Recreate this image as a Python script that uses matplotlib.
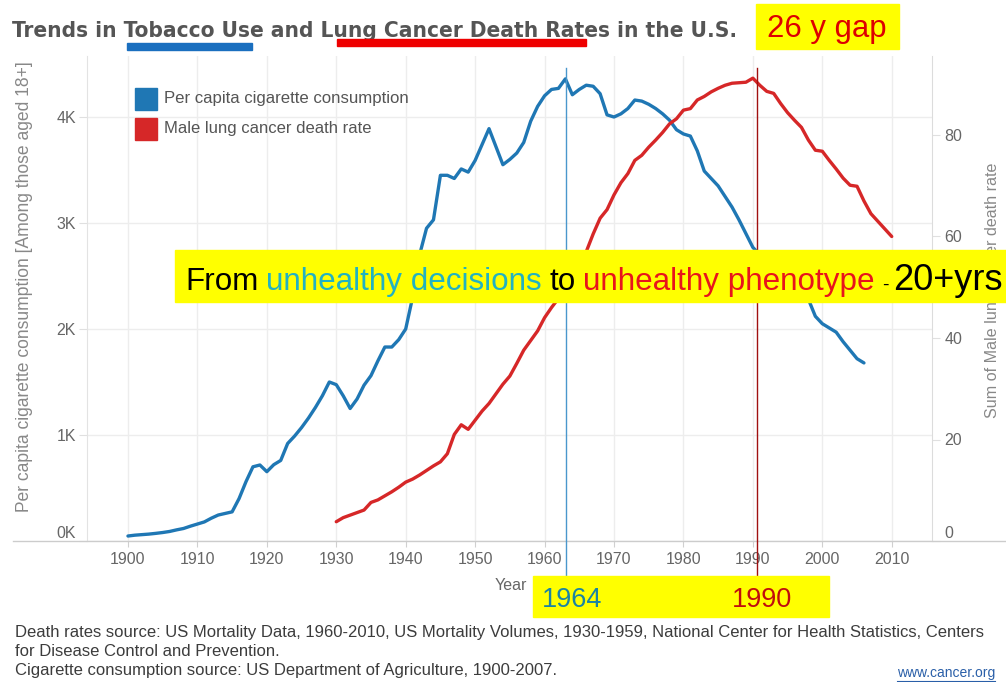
import matplotlib
matplotlib.use("Agg")
import matplotlib.pyplot as plt
from matplotlib import font_manager as fm
from matplotlib.patches import Rectangle
from matplotlib.lines import Line2D
from matplotlib.transforms import ScaledTranslation

# ---------------- data ----------------
years_cig = list(range(1900, 2007))
cigarettes = [47, 55, 60, 65, 72, 80, 90, 105, 118, 140,
              160, 180, 215, 245, 260, 275, 400, 560, 700, 717,
              654, 720, 760, 920, 990, 1070, 1160, 1260, 1370, 1500,
              1475, 1370, 1250, 1340, 1470, 1560, 1700, 1830, 1830, 1900,
              2000, 2300, 2700, 2950, 3030, 3450, 3450, 3420, 3510, 3480,
              3590, 3740, 3890, 3720, 3550, 3600, 3660, 3760, 3960, 4100,
              4200, 4260, 4270, 4360, 4210, 4260, 4300, 4290, 4220, 4020,
              4000, 4030, 4080, 4160, 4150, 4120, 4080, 4030, 3970, 3880,
              3840, 3820, 3680, 3490, 3420, 3350, 3250, 3150, 3030, 2900,
              2770, 2700, 2640, 2560, 2520, 2490, 2440, 2380, 2280, 2120,
              2050, 2010, 1970, 1880, 1800, 1720, 1680]

years_death = list(range(1930, 2011))
death_rate = [3.8, 4.6, 5.1, 5.6, 6.1, 7.6, 8.1, 8.9, 9.7, 10.6,
              11.6, 12.2, 13.0, 13.9, 14.8, 15.6, 17.2, 21.0, 22.9, 22.0,
              23.8, 25.6, 27.1, 29.0, 30.9, 32.5, 35.0, 37.6, 39.5, 41.4,
              44.0, 46.0, 47.8, 49.8, 52.0, 54.5, 57.0, 60.5, 63.6, 65.3,
              68.2, 70.6, 72.4, 75.0, 76.0, 77.6, 79.0, 80.5, 82.2, 83.2,
              84.9, 85.2, 86.9, 87.6, 88.5, 89.2, 89.8, 90.2, 90.3, 90.4,
              91.2, 89.8, 88.6, 88.2, 86.2, 84.4, 82.9, 81.5, 79.0, 77.0,
              76.8, 75.0, 73.3, 71.5, 70.1, 69.9, 67.0, 64.5, 63.0, 61.5,
              60.0]

series_names = ["Per capita cigarette consumption", "Male lung cancer death rate"]
x_ticks = list(range(1900, 2011, 10))
left_ticks = [0, 1000, 2000, 3000, 4000]
left_tick_labels = ["0K", "1K", "2K", "3K", "4K"]
right_ticks = [0, 20, 40, 60, 80]
marker_years = [1963.1, 1990.6]
marker_labels = ["1964", "1990"]

# ---------------- layout helpers ----------------
W, H = 1006, 682
BLUE = "#1f77b4"
RED = "#d62728"
SANS = "Liberation Sans"


def fx(x):
    return x / W


def fy(y):
    return 1 - y / H


fig = plt.figure(figsize=(W / 100, H / 100), dpi=100)
fig.patch.set_facecolor("white")
renderer = fig.canvas.get_renderer()


def put(x, y, s, size=12, width=None, height=None, **kw):
    t = fig.text(fx(x), fy(y), s, fontsize=size, **kw)
    if width is not None or height is not None:
        bb = t.get_window_extent(renderer)
        if width is not None:
            t.set_fontsize(size * width / bb.width)
        else:
            t.set_fontsize(size * height / bb.height)
    return t


def title_font():
    for f in fm.fontManager.ttflist:
        if f.name == "Liberation Sans Narrow" and f.weight in ("bold", 700):
            return fm.FontProperties(fname=f.fname)
    for f in fm.fontManager.ttflist:
        if "DejaVuSansCondensed-Bold.ttf" in f.fname:
            return fm.FontProperties(fname=f.fname)
    return fm.FontProperties(family="Roboto", weight="bold")


# ---------------- axes ----------------
ax_left, ax_right, ax_top, ax_bottom = 87, 932, 56, 541
ax = fig.add_axes([fx(ax_left), fy(ax_bottom), (ax_right - ax_left) / W,
                   (ax_bottom - ax_top) / H])
ax2 = ax.twinx()

ax.plot(years_cig, cigarettes, color=BLUE, lw=2.4, solid_capstyle="round",
        solid_joinstyle="round", zorder=3)
ax2.plot(years_death, death_rate, color=RED, lw=2.4, solid_capstyle="round",
         solid_joinstyle="round", zorder=3)

ax.set_xlim(1894.1, 2015.8)
ax.set_ylim(0, (ax_bottom - ax_top) / 106 * 1000)
ax2.set_ylim(0, (ax_bottom - ax_top) / 101.5 * 20)

ax.set_xticks(x_ticks)
ax.set_xticklabels([str(v) for v in x_ticks], fontfamily=SANS)
ax.set_yticks(left_ticks)
ax.set_yticklabels(left_tick_labels, fontfamily=SANS)
ax2.set_yticks(right_ticks)
ax2.set_yticklabels([str(v) for v in right_ticks], fontfamily=SANS)

ax.grid(True, color="#ededed", lw=1)
ax.set_axisbelow(True)
for a in (ax, ax2):
    for s in ("top", "bottom", "left", "right"):
        a.spines[s].set_visible(False)
ax.spines["left"].set_visible(True)
ax.spines["left"].set_color("#e3e3e3")
ax2.spines["right"].set_visible(True)
ax2.spines["right"].set_color("#dcdcdc")

ax.tick_params(axis="x", length=4, color="#d0d0d0", pad=4, labelsize=11.5,
               labelcolor="#666666")
ax.tick_params(axis="y", length=6, color="#e0e0e0", pad=2, labelsize=11.5,
               labelcolor="#666666")
ax2.tick_params(axis="y", length=6, color="#e0e0e0", pad=3, labelsize=11.5,
                labelcolor="#666666")

# zero labels sit just above the baseline, as in the reference
for lbl in (ax.get_yticklabels()[0], ax2.get_yticklabels()[0]):
    lbl.set_transform(lbl.get_transform() +
                      ScaledTranslation(0, 9 / 100, fig.dpi_scale_trans))

# long x axis baseline
fig.add_artist(Line2D([fx(13), fx(1006)], [fy(541), fy(541)], color="#cccccc",
                      lw=1, zorder=2))

# marker lines for 1964 / 1990
fig.canvas.draw()
mcolors = ["#4a97cc", "#a01010"]
for yr, c in zip(marker_years, mcolors):
    xp = ax.transData.transform((yr, 0))[0]
    fig.add_artist(Line2D([xp / W, xp / W], [fy(68), fy(578)], color=c, lw=1,
                          zorder=4))

# ---------------- legend ----------------
for i, (name, c) in enumerate(zip(series_names, [BLUE, RED])):
    yc = 99 + 30 * i
    fig.add_artist(Rectangle((fx(135), fy(yc + 11)), 22 / W, 22 / H,
                             color=c, zorder=5))
    put(164, yc, name, size=12, color="#555555", va="center",
        fontfamily=SANS, zorder=5, width=244 if i == 0 else None)

# ---------------- axis labels ----------------
put(25, 287, "Per capita cigarette consumption [Among those aged 18+]",
    size=11, height=450, rotation=90, ha="center", va="center",
    color="#888888", fontfamily=SANS)
put(993, 290, "Sum of Male lung cancer death rate", size=11, height=255,
    rotation=90, ha="center", va="center", color="#888888", fontfamily=SANS)
put(527, 586, "Year", size=11.5, ha="right", va="center", color="#666666",
    fontfamily=SANS)

# ---------------- title ----------------
put(12, 37, "Trends in Tobacco Use and Lung Cancer Death Rates in the U.S.",
    size=18, width=724, va="baseline", color="#555555",
    fontproperties=title_font())
fig.add_artist(Rectangle((fx(127), fy(50)), 125 / W, 7 / H, color="#1a6fbf",
                         zorder=5))
fig.add_artist(Rectangle((fx(337), fy(46)), 249 / W, 7 / H, color="#ee0000",
                         zorder=5))
fig.add_artist(Rectangle((fx(756), fy(49)), 143 / W, 45 / H, color="#ffff00",
                         zorder=5))
put(827, 37, "26 y gap", size=22, width=119, ha="center", va="baseline",
    color="#dd0000", fontfamily=SANS, zorder=6)

# ---------------- banner ----------------
fig.add_artist(Rectangle((fx(175), fy(302)), (W - 175) / W, 52 / H,
                         color="#ffff00", zorder=10))
pieces = [("From", "#000000", 22.6), ("unhealthy decisions", "#22b2c2", 22.6),
          ("to", "#000000", 22.6), ("unhealthy phenotype", "#e8141c", 22.6),
          ("-", "#000000", 14), ("20+yrs", "#000000", 26)]
xcur = 185
for txt, c, sz in pieces:
    t = put(xcur, 290, txt, size=sz, va="baseline", color=c,
            fontfamily=SANS, zorder=11)
    bb = t.get_window_extent(renderer)
    xcur += bb.width + 0.24 * sz * 100 / 72

# ---------------- bottom year box ----------------
fig.add_artist(Rectangle((fx(533), fy(617)), 296 / W, 41 / H, color="#ffff00",
                         zorder=10))
put(542, 607, marker_labels[0], size=19.5, va="baseline", color="#1a84a3",
    fontfamily=SANS, zorder=11)
put(732, 607, marker_labels[1], size=19.5, va="baseline", color="#c00d0d",
    fontfamily=SANS, zorder=11)

# ---------------- footer ----------------
put(15, 632, "Death rates source: US Mortality Data, 1960-2010, US Mortality "
    "Volumes, 1930-1959, National Center for Health Statistics, Centers",
    size=10.5, width=975, va="center", color="#3c3c3c", fontfamily=SANS)
fs = fig.texts[-1].get_fontsize()
put(15, 651, "for Disease Control and Prevention.", size=fs, va="center",
    color="#3c3c3c", fontfamily=SANS)
put(15, 670, "Cigarette consumption source: US Department of Agriculture, "
    "1900-2007.", size=fs, va="center", color="#3c3c3c", fontfamily=SANS)
put(897, 673, "www.cancer.org", size=9, width=98, va="center",
    color="#2a5fa8", fontfamily=SANS)
fig.add_artist(Line2D([fx(897), fx(995)], [fy(681), fy(681)], color="#2a5fa8",
                      lw=0.8))

fig.savefig("out.png", dpi=100)
